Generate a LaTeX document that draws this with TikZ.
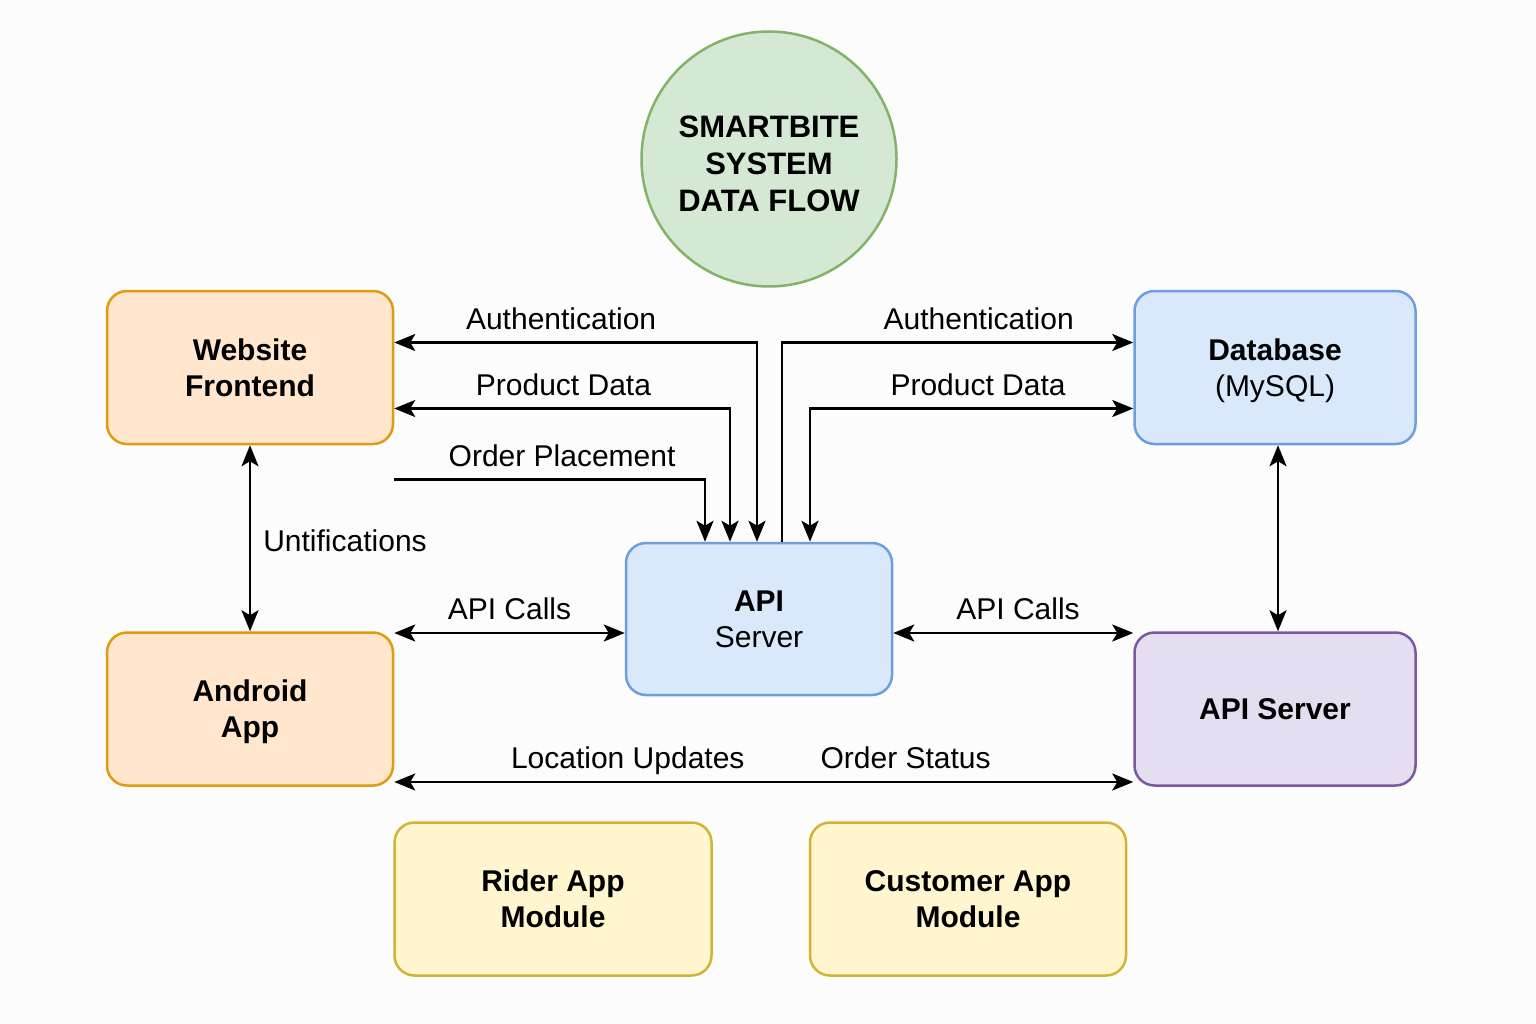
\documentclass[tikz,border=0pt]{standalone}
\usepackage{fontspec}
\setmainfont{Liberation Sans}
\usepackage{tikz}
\usetikzlibrary{positioning, arrows.meta}
\definecolor{orfill}{HTML}{FFE6CC}
\definecolor{ordraw}{HTML}{E09B10}
\definecolor{blfill}{HTML}{DAE8FC}
\definecolor{bldraw}{HTML}{6C9FE0}
\definecolor{pufill}{HTML}{E5DDF0}
\definecolor{pudraw}{HTML}{7D58A0}
\definecolor{yefill}{HTML}{FFF6D0}
\definecolor{yedraw}{HTML}{D2B434}
\definecolor{grfill}{HTML}{D5E8D4}
\definecolor{grdraw}{HTML}{82B366}
\tikzset{
  box/.style={rectangle, rounded corners=20pt, draw, line width=2.5pt, minimum width=286pt, minimum height=153pt, align=center, text depth=0pt, font=\fontsize{30}{36}\selectfont},
  orbox/.style={box, fill=orfill, draw=ordraw},
  blbox/.style={box, fill=blfill, draw=bldraw},
  pubox/.style={box, fill=pufill, draw=pudraw, minimum width=281pt},
  yebox/.style={box, fill=yefill, draw=yedraw, minimum width=317pt},
  lbl/.style={font=\fontsize{30}{34}\selectfont, inner sep=0pt, text height=21pt, text depth=6pt},
  tip/.style={Stealth[length=21pt, width=17pt, inset=5pt]},
  arrow/.style={-{Stealth[length=21pt, width=17pt, inset=5pt]}, line width=2.6pt},
  biarrow/.style={{Stealth[length=21pt, width=17pt, inset=5pt]}-{Stealth[length=21pt, width=17pt, inset=5pt]}, line width=2.6pt},
}
\begin{document}
\begin{tikzpicture}[x=1pt, y=-1pt, node distance=186pt and 96pt]
  \useasboundingbox[fill=white!99!black] (0,0) rectangle (1536,1024);

  % Nodes
  \node[circle, draw=grdraw, fill=grfill, line width=2.5pt, minimum size=255pt] (title) at (769,159) {};
  \node[align=center, font=\bfseries\fontsize{31}{37}\selectfont] (titletext) at ([yshift=-5pt]title.center) {SMARTBITE\\SYSTEM\\DATA FLOW};
  \node[orbox] (web) at (250,367.5) {\textbf{Website}\\\textbf{Frontend}};
  \node[orbox, below=of web] (android) {\textbf{Android}\\\textbf{App}};
  \node[blbox, minimum width=266pt, minimum height=152pt] (api) at (759,619) {\textbf{API}\\Server};
  \node[blbox, minimum width=281pt] (db) at (1275,367.5) {\textbf{Database}\\(MySQL)};
  \node[pubox, below=of db] (apis) {\textbf{API Server}};
  \node[yebox] (rider) at (553,899) {\textbf{Rider App}\\\textbf{Module}};
  \node[yebox, minimum width=316pt, right=of rider] (cust) {\textbf{Customer App}\\\textbf{Module}};

  \coordinate (ordsrc) at ([yshift=-112pt]web.east);
  \coordinate (callsl) at ([yshift=-14pt]api.west);
  \coordinate (callsr) at ([yshift=-14pt]api.east);

  % Arrows
  \draw[biarrow] ([yshift=25pt]web.east) -| node[lbl, pos=0.23, above=6pt] {Authentication} ([xshift=-2pt]api.north);
  \draw[biarrow] ([yshift=-41pt]web.east) -| node[lbl, pos=0.252, above=6pt] {Product Data} ([xshift=-29pt]api.north);
  \draw[arrow] (ordsrc) -| node[lbl, pos=0.27, above=6pt] {Order Placement} ([xshift=-54pt]api.north);
  \draw[arrow] ([xshift=23pt]api.north) |- node[lbl, pos=0.78, above=6pt] {Authentication} ([yshift=25pt]db.west);
  \draw[biarrow] ([yshift=-41pt]db.west) -| node[lbl, pos=0.24, above=6pt] {Product Data} ([xshift=51pt]api.north);
  \draw[biarrow] (web) -- node[lbl, pos=0.53, right=12pt] {Untifications} (android);
  \draw[biarrow] (android.east |- callsl) -- node[lbl, above=6pt] {API Calls} (callsl);
  \draw[biarrow] (callsr) -- node[lbl, pos=0.52, above=6pt] {API Calls} (apis.west |- callsr);
  \draw[biarrow] ([xshift=3pt]db.south) -- ([xshift=3pt]apis.north);
  \draw[biarrow] ([yshift=-73pt]android.east) -- node[lbl, pos=0.316, above=6pt] {Location Updates} node[lbl, pos=0.692, above=6pt] {Order Status} ([yshift=-73pt]apis.west);

\end{tikzpicture}
\end{document}
